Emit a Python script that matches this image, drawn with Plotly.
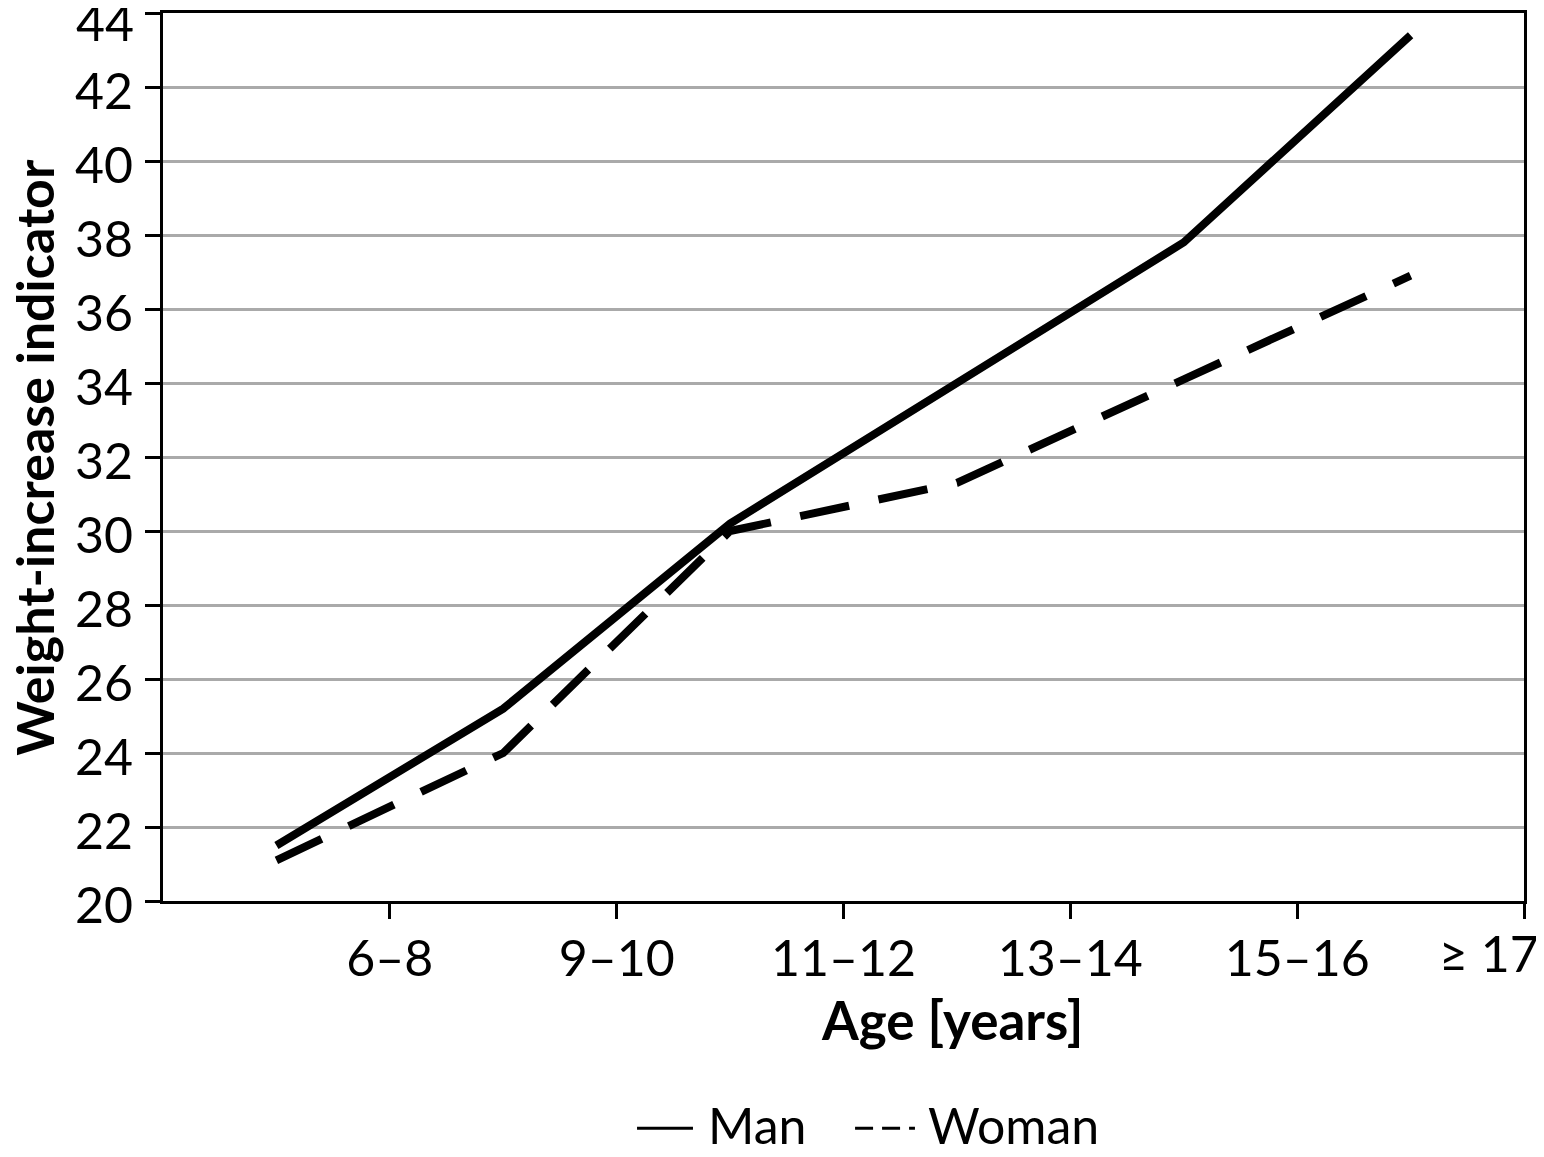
import plotly.graph_objects as go

age_groups = ["6–8", "9–10", "11–12", "13–14", "15–16", "≥ 17"]
man = [21.5, 25.2, 30.2, 34.0, 37.8, 43.4]
woman = [21.1, 24.0, 30.0, 31.3, 34.1, 36.9]
y_ticks = list(range(20, 45, 2))
series_names = ["Man", "Woman"]

FONT = "Lato"
FS = 50
# points sit in the middle of each interval; labels sit at the interval boundaries
xpos = [i + 0.5 for i in range(len(age_groups))]
tickpos = [i + 1 for i in range(len(age_groups))]

fig = go.Figure()
fig.add_trace(go.Scatter(x=xpos, y=man, mode="lines", name=series_names[0],
                         showlegend=False, line=dict(color="black", width=8)))
fig.add_trace(go.Scatter(x=xpos, y=woman, mode="lines", name=series_names[1],
                         showlegend=False,
                         line=dict(color="black", width=8, dash="50px,30px")))

x_ticktext = age_groups[:-1] + [""]
y_ticktext = [str(v) for v in y_ticks[:-1]] + [""]

# last x label sits flush with the right edge
fig.add_annotation(x=tickpos[-1], y=0, xref="x", yref="paper", yanchor="top",
                   xanchor="right", xshift=17, yshift=-20, showarrow=False,
                   text=age_groups[-1], font=dict(family=FONT, size=FS, color="black"))
# top y label pushed inside the page
fig.add_annotation(x=0, y=y_ticks[-1], xref="paper", yref="y", xanchor="right",
                   yanchor="middle", xshift=-27, yshift=-9, showarrow=False,
                   text=str(y_ticks[-1]), font=dict(family=FONT, size=FS, color="black"))
# axis titles
fig.add_annotation(x=0.58, y=-0.134, xref="paper", yref="paper", xanchor="center",
                   yanchor="middle", showarrow=False, text="<b>Age [years]</b>",
                   font=dict(family=FONT, size=53, color="black"))
fig.add_annotation(x=-0.095, y=0.5, xref="paper", yref="paper", xanchor="center",
                   yanchor="middle", showarrow=False, textangle=-90,
                   text="<b>Weight-increase indicator</b>",
                   font=dict(family=FONT, size=52, color="black"))

# legend below the chart: line samples and labels
LEG_Y = -0.252
fig.add_shape(type="line", xref="paper", yref="paper", x0=0.3483, x1=0.3894,
              y0=LEG_Y - 0.004, y1=LEG_Y - 0.004, line=dict(color="black", width=3))
fig.add_annotation(x=0.399, y=LEG_Y, xref="paper", yref="paper", xanchor="left",
                   yanchor="middle", showarrow=False, text=series_names[0],
                   font=dict(family=FONT, size=50, color="black"))
fig.add_shape(type="line", xref="paper", yref="paper", x0=0.5085, x1=0.5525,
              y0=LEG_Y - 0.004, y1=LEG_Y - 0.004,
              line=dict(color="black", width=3, dash="18px,9px"))
fig.add_annotation(x=0.5606, y=LEG_Y, xref="paper", yref="paper", xanchor="left",
                   yanchor="middle", showarrow=False, text=series_names[1],
                   font=dict(family=FONT, size=50, color="black"))

fig.update_layout(
    width=1536, height=1149,
    margin=dict(l=155, r=20, t=5, b=256, autoexpand=False),
    paper_bgcolor="white", plot_bgcolor="white",
    font=dict(family=FONT, size=FS, color="black"),
    showlegend=False,
    xaxis=dict(range=[0, 6], tickmode="array", tickvals=tickpos, ticktext=x_ticktext,
               ticks="outside", ticklen=15, tickwidth=3, tickcolor="black",
               showline=True, linecolor="black", linewidth=3, mirror=True,
               showgrid=False, zeroline=False, automargin=False,
               ticklabelstandoff=-3,
               tickfont=dict(family=FONT, size=FS, color="black")),
    yaxis=dict(range=[20, 44], tickmode="array", tickvals=y_ticks, ticktext=y_ticktext,
               ticks="outside", ticklen=15, tickwidth=3, tickcolor="black",
               showline=True, linecolor="black", linewidth=3, mirror=True,
               showgrid=True, gridcolor="#aaaaaa", gridwidth=2.5, zeroline=False,
               automargin=False, ticklabeloverflow="allow", ticklabelstandoff=2,
               ticklabelshift=4,
               tickfont=dict(family=FONT, size=FS, color="black")),
)

fig.write_html("out.html")
